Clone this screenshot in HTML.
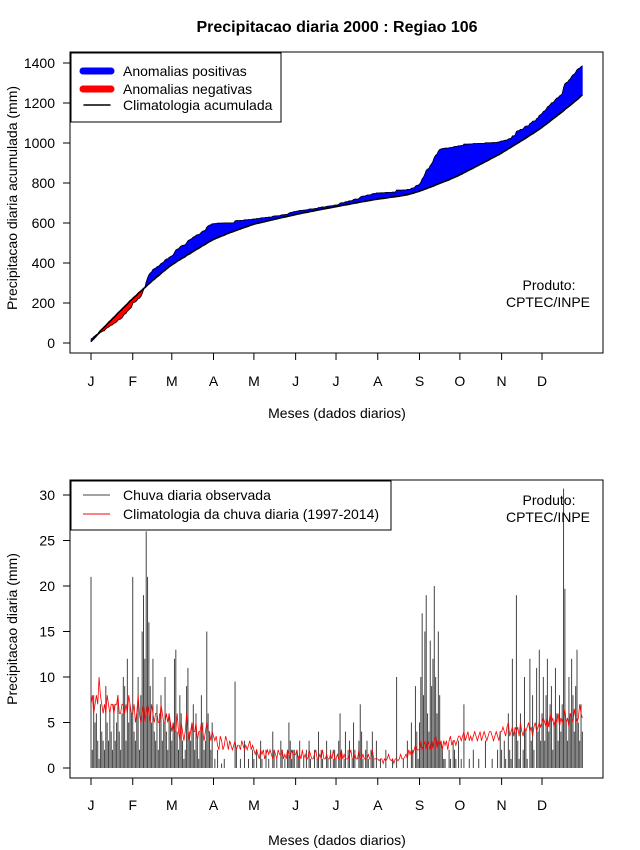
<!DOCTYPE html>
<html><head><meta charset="utf-8"><style>
body{margin:0;background:#fff;}
svg{display:block;font-family:"Liberation Sans",Arial,sans-serif;}
</style></head><body>
<svg id="chart" width="640" height="850" viewBox="0 0 640 850">
<rect width="640" height="850" fill="#fff"/>
<text x="337" y="32" text-anchor="middle" font-size="16" font-weight="bold">Precipitacao diaria 2000 : Regiao 106</text>
<g id="topPanel"></g>
<g id="botPanel"></g>
</svg>
<script>
const monthLabels=["J","F","M","A","M","J","J","A","S","O","N","D"];
const monthStarts=[0,31,60,91,121,152,182,213,244,274,305,335];
const topTicks=[0,200,400,600,800,1000,1200,1400];
const botTicks=[0,5,10,15,20,25,30];
const observed=[
21,2,8,5,6,3,1,7,4,3,2,9,5,3,6,4,2,7,3,5,8,4,2,6,10,9,3,12,5,7,6,
21,4,3,6,10,2,8,15,19,12,26,21,16,9,5,12,4,3,7,2,6,8,3,5,10,4,2,6,5,
3,5,12,13,4,2,8,6,3,1,2,9,11,4,3,5,7,2,6,3,1,4,8,5,2,3,15,6,4,2,5,
0,1,0,2,0,0,0.5,0,1,0,0,0,0,0,0,0,9.5,2,0,0,1,0,0,3,0,0,1,0,0,2,
1,0,2,0,0,3,1,0,0,2,0,1,0,0,4,2,0,1,0,0,3,2,0,1,0,2,5,3,1,2,2,
0,2,1,3,0,0,1,0,2,0,3,1,0,0,2,0,1,4,0,2,1,0,0,3,1,0,2,0,1,2,
1,0,3,6,2,0,1,4,0,2,3,0,1,5,2,0,0,3,7,4,1,0,2,3,1,0,2,4,1,0,3,
0,0,1,0,0,0,2,0,0,0,0,1,0,0,10,0,0,0,0,1,0,0,3,0,0,5,2,0,9,4,1,
5,10,17,8,15,19,6,4,14,9,12,20,10,6,15,8,3,2,1,1,0,0,2,1,0,3,2,1,0,3,
0,1,0,7,0,0,0,1,0,0,2,0,0,0,1,0,0,0,0,3,0,0,0,0,1,0,0,0,2,0,4,
2,0,3,1,0,6,2,1,12,0,4,19,3,1,6,0,2,10,4,1,0,12,3,8,2,0,11,4,13,3,
6,10,3,8,12,4,7,9,2,5,11,6,3,8,4,7,30.7,19.7,5,3,10,6,12,8,4,9,13,5,3,7,4];
const climatology=[
7,8,6,7,8,7,10,8,7,6,7,6,8,7,6,7,7,6,7,7,8,6,6,7,7,6,7,6,8,7,6,
6,7,5,6,8,6,5,6,7,5,6,7,6,5,7,6,5,6,6,5,5,7,6,5,5,6,5,6,5,
4,5,4,4,6,4,3,5,4,3,4,6,4,3,4,5,4,4,5,3,4,4,5,4,3,4,5,4,4,3,4,
3.5,3,3.5,2.5,2,3.5,3,2,2.5,3.5,3,2,3,2.5,2,2.5,3,2,2.5,2.5,2,3,2.5,2,2.5,2,2.5,3,2,2.5,
2,1.5,2,1.5,1,2,1.5,2,1,1.5,2,1.5,2,1.5,1,2,1.5,1,2,1.5,1.5,2,1,1.5,1,2,1.5,1,2,1.5,1.5,
1.5,2,1,1.5,1,2,1,1.5,1,1,2,1.5,1,1,1.5,2,1,1,1.5,1,2,1,1,1.5,1,1,1.5,1,2,1,
1,1.5,1,1,2,1,1.5,1,1,1,1.5,2,1,1,1.5,1,1,2,1,1,1.5,1,1,1,1.5,1,1,2,1,1,1,
1,0.8,1,1,0.5,1,0.8,1,1.5,1,0.8,1,0.5,1,1,0.8,1,1.5,1,1,1.2,1.5,1,2,1.5,2,1.5,2,2.5,2,2,
2,3,2,2.5,3,2,3,2.5,2,3,2,3,3.5,2,3,2.5,3,2,3,2.5,3,2,3,3.5,2.5,3,3,2.5,3,3.5,
3.5,3,3.5,4,3,3.5,4,3,3.5,3,3.5,4,3.5,3,3.5,4,3,3.5,4,3.5,3,3.5,4,4,3.5,3,3.5,4,3.5,3,4,
4,4.5,4,3.5,4.5,5,3.5,4,4.5,3.5,4.5,4,4.5,3.5,5,4,3.5,4.5,4,4.5,5,4,4.5,3.5,4.5,5,4,4.5,5,4.5,
5,5.5,5,4.5,5.5,4.5,6,5,5.5,4.5,5.5,5,6,4.5,5.5,5,5.5,6.5,5,5.5,4.5,6,5.5,5,6.5,5.5,5,5.5,7,6,5.5];

const NS="http://www.w3.org/2000/svg";
function mk(parent,tag,attrs,text){const e=document.createElementNS(NS,tag);for(const k in attrs)e.setAttribute(k,attrs[k]);if(text!==undefined)e.textContent=text;parent.appendChild(e);return e;}
const xDay=d=>91+d*(451/335);
const yTop=v=>343-v*(280/1400);
const yBot=v=>768-v*(273/30);

function cumsum(a){let s=0;return a.map(v=>s+=v);}
const cumObs=cumsum(observed), cumClim=cumsum(climatology);

function frame(g,y0,y1,ticks,yf,ytitle,ycenter,xlabY,xtitleY){
  const box=mk(g,'rect',{x:70,y:y0,width:533,height:y1-y0,fill:'none',stroke:'#000','stroke-width':1});
  
  
  ticks.forEach(t=>{
    const l=mk(g,'line',{x1:63,x2:70,y1:yf(t),y2:yf(t),stroke:'#000'});
    
    
    const tx=mk(g,'text',{x:55,y:yf(t)+5,'text-anchor':'end','font-size':14},String(t));
    
    
  });
  monthStarts.forEach((d,i)=>{
    const l=mk(g,'line',{x1:xDay(d),x2:xDay(d),y1:y1,y2:y1+7,stroke:'#000'});
    
    
    const tx=mk(g,'text',{x:xDay(d),y:xlabY,'text-anchor':'middle','font-size':14},monthLabels[i]);
    
    
  });
  const yt=mk(g,'text',{x:0,y:0,'text-anchor':'middle','font-size':14,transform:`translate(17,${ycenter}) rotate(-90)`},ytitle);
  
  
  const xt=mk(g,'text',{x:337,y:xtitleY,'text-anchor':'middle','font-size':14},'Meses (dados diarios)');
  
  
}

// TOP
const topPanel=document.getElementById('topPanel');
frame(topPanel,52,353,topTicks,yTop,'Precipitacao diaria acumulada (mm)',198,386,418);
for(let i=0;i<observed.length-1;i++){
  const a=cumObs[i]-cumClim[i], b=cumObs[i+1]-cumClim[i+1];
  const col=(a+b)>=0?'#0000ff':'#ff0000';
  const p=mk(topPanel,'polygon',{points:`${xDay(i)},${yTop(cumObs[i])} ${xDay(i+1)},${yTop(cumObs[i+1])} ${xDay(i+1)},${yTop(cumClim[i+1])} ${xDay(i)},${yTop(cumClim[i])}`,fill:col,stroke:col,'stroke-width':0.6});
  
  
}
const ol=mk(topPanel,'polyline',{points:cumObs.map((v,i)=>xDay(i)+','+yTop(v)).join(' '),fill:'none',stroke:'#000','stroke-width':0.8});


const cl=mk(topPanel,'polyline',{points:cumClim.map((v,i)=>xDay(i)+','+yTop(v)).join(' '),fill:'none',stroke:'#000','stroke-width':1.6});


const lg=mk(topPanel,'g',{});


mk(lg,'rect',{x:71,y:53,width:210,height:69,fill:'#fff',stroke:'#000'});
[['#0000ff',7,71,'Anomalias positivas'],['#ff0000',7,89,'Anomalias negativas'],['#000',1.5,105,'Climatologia acumulada']].forEach(r=>{
  const e=mk(lg,'line',{x1:r[1]>2?83:84,x2:r[1]>2?111:110,y1:r[2],y2:r[2],stroke:r[0],'stroke-width':r[1],'stroke-linecap':'round'});
  
  
  const t=mk(lg,'text',{x:123,y:r[2]+5,'font-size':14},r[3]);
  
  
});
let t1=mk(topPanel,'text',{x:549,y:290,'text-anchor':'middle','font-size':14},'Produto:');


t1=mk(topPanel,'text',{x:548,y:307,'text-anchor':'middle','font-size':14},'CPTEC/INPE');



// BOTTOM
const botPanel=document.getElementById('botPanel');
frame(botPanel,480,778,botTicks,yBot,'Precipitacao diaria (mm)',629,810,845);
observed.forEach((v,i)=>{
  const l=mk(botPanel,'line',{x1:xDay(i),x2:xDay(i),y1:yBot(0),y2:yBot(v),stroke:'#444','stroke-width':1});
  
  
});
const rl=mk(botPanel,'polyline',{points:climatology.map((v,i)=>xDay(i)+','+yBot(v)).join(' '),fill:'none',stroke:'#ff0000','stroke-width':0.8});


const lg2=mk(botPanel,'g',{});


mk(lg2,'rect',{x:71,y:481,width:320,height:49,fill:'#fff',stroke:'#000'});
[['#444',495,'Chuva diaria observada'],['#ff0000',514,'Climatologia da chuva diaria (1997-2014)']].forEach(r=>{
  const e=mk(lg2,'line',{x1:83,x2:110,y1:r[1],y2:r[1],stroke:r[0],'stroke-width':1});
  
  
  const t=mk(lg2,'text',{x:123,y:r[1]+5,'font-size':14},r[2]);
  
  
});
t1=mk(botPanel,'text',{x:549,y:505,'text-anchor':'middle','font-size':14},'Produto:');


t1=mk(botPanel,'text',{x:548,y:522,'text-anchor':'middle','font-size':14},'CPTEC/INPE');


</script>
</body></html>
